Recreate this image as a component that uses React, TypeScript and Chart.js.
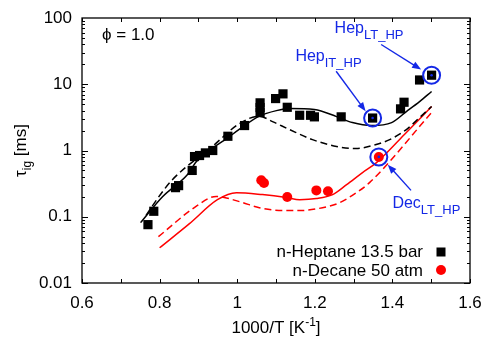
import { useEffect, useRef } from "react";
import { Chart, registerables } from "chart.js";

Chart.register(...registerables);

// ---- data ----
const xTicks = [0.6, 0.8, 1.0, 1.2, 1.4, 1.6];
const xTickLabels = ["0.6", "0.8", "1", "1.2", "1.4", "1.6"];
const yTicks = [0.01, 0.1, 1, 10, 100];
const yTickLabels = ["0.01", "0.1", "1", "10", "100"];

// n-Heptane 13.5 bar (experiment)
const heptaneX = [0.770, 0.785, 0.841, 0.849, 0.884, 0.890, 0.903, 0.918, 0.937, 0.976, 1.019, 1.059, 1.059, 1.059, 1.099, 1.118, 1.129, 1.161, 1.189, 1.199, 1.268, 1.349, 1.421, 1.430, 1.470, 1.501];
const heptaneTau = [0.076, 0.121, 0.275, 0.295, 0.50, 0.81, 0.84, 0.92, 1.0, 1.64, 2.38, 5.24, 4.45, 3.73, 6.08, 7.16, 4.49, 3.40, 3.40, 3.22, 3.22, 3.09, 4.25, 5.35, 11.6, 13.7];

// n-Decane 50 atm (experiment)
const decaneX = [1.062, 1.069, 1.129, 1.204, 1.234, 1.365];
const decaneTau = [0.355, 0.324, 0.199, 0.25, 0.242, 0.80];

// model curves
const hepSolidX = [0.751, 0.8075, 0.872, 0.895, 0.980, 1.006, 1.057, 1.101, 1.135, 1.199, 1.256, 1.297, 1.346, 1.398, 1.436, 1.470, 1.501];
const hepSolidTau = [0.0815, 0.201, 0.433, 0.68, 1.62, 2.1, 3.3, 4.0, 4.30, 4.15, 3.25, 2.64, 2.38, 2.64, 3.87, 5.48, 7.76];
const hepDashX = [0.765, 0.80, 0.833, 0.936, 1.006, 1.057, 1.091, 1.135, 1.194, 1.256, 1.307, 1.349, 1.393, 1.436, 1.470, 1.501];
const hepDashTau = [0.105, 0.208, 0.363, 1.15, 2.55, 3.3, 2.73, 2.07, 1.46, 1.15, 1.07, 1.19, 1.46, 2.07, 3.14, 4.61];
const decSolidX = [0.80, 0.877, 0.949, 0.998, 1.065, 1.127, 1.161, 1.204, 1.246, 1.282, 1.323, 1.359, 1.431, 1.501];
const decSolidTau = [0.034, 0.0787, 0.181, 0.231, 0.216, 0.195, 0.181, 0.188, 0.216, 0.305, 0.464, 0.656, 1.74, 4.6];
const decDashX = [0.797, 0.894, 0.946, 1.006, 1.057, 1.117, 1.161, 1.220, 1.264, 1.307, 1.341, 1.501];
const decDashTau = [0.050, 0.1435, 0.203, 0.169, 0.137, 0.124, 0.124, 0.137, 0.163, 0.231, 0.327, 3.74];

// highlighted points (blue rings)
const highlightX = [1.349, 1.501, 1.365];
const highlightTau = [3.09, 13.7, 0.80];

// annotation labels / arrows (data coordinates)
const annMain = ["Hep", "Hep", "Dec"];
const annSub = ["LT_HP", "IT_HP", "LT_HP"];
const annLabelX = [1.251, 1.150, 1.400];
const annLabelTau = [60.4, 22.8, 0.137];
const arrowFromX = [1.371, 1.255, 1.448];
const arrowFromTau = [39.8, 15.7, 0.25];
const arrowToX = [1.474, 1.331, 1.388];
const arrowToTau = [16.7, 3.91, 0.612];

const FONT = "'Liberation Sans', Arial, Helvetica, sans-serif";
const BLUE = "#1428e6";
const RED = "#ff0000";

const pts = (xs: number[], ys: number[]) => xs.map((x, i) => ({ x, y: ys[i] }));

const decor = {
  id: "decor",
  afterDatasetsDraw(chart: any) {
    const { ctx, chartArea: a, scales } = chart;
    const xs = scales.x;
    const ys = scales.y;
    const X = (v: number) => xs.getPixelForValue(v);
    const Y = (v: number) => ys.getPixelForValue(v);
    ctx.save();
    ctx.strokeStyle = "#000";
    ctx.lineWidth = 1;
    const line = (x1: number, y1: number, x2: number, y2: number) => {
      ctx.beginPath();
      ctx.moveTo(x1, y1);
      ctx.lineTo(x2, y2);
      ctx.stroke();
    };
    // x ticks every 0.1
    for (let i = 0; i <= 10; i++) {
      const px = Math.round(X(0.6 + i * 0.1)) + 0.5;
      line(px, a.bottom, px, a.bottom - 4);
      line(px, a.top, px, a.top + 4);
    }
    // y log ticks
    for (let d = -2; d <= 1; d++) {
      for (let m = 1; m <= 9; m++) {
        const py = Math.round(Y(m * Math.pow(10, d))) + 0.5;
        const len = m === 1 ? 6 : 3;
        line(a.left, py, a.left + len, py);
        line(a.right, py, a.right - len, py);
      }
    }
    // frame
    ctx.lineWidth = 1.3;
    ctx.strokeRect(a.left, a.top, a.right - a.left, a.bottom - a.top);

    // phi label
    ctx.fillStyle = "#000";
    ctx.font = `17px ${FONT}`;
    ctx.textAlign = "left";
    ctx.textBaseline = "alphabetic";
    ctx.fillText("\u03D5 = 1.0", a.left + 20, a.top + 22);

    // legend
    ctx.textAlign = "right";
    ctx.fillText("n-Heptane 13.5 bar", a.right - 47, a.bottom - 26);
    ctx.fillText("n-Decane 50 atm", a.right - 47, a.bottom - 7);
    ctx.fillStyle = "#000";
    ctx.fillRect(a.right - 29 - 4.5, a.bottom - 31 - 4.5, 9, 9);
    ctx.fillStyle = RED;
    ctx.beginPath();
    ctx.arc(a.right - 29, a.bottom - 13, 5, 0, Math.PI * 2);
    ctx.fill();

    // annotations
    ctx.textAlign = "left";
    for (let i = 0; i < annMain.length; i++) {
      const lx = X(annLabelX[i]);
      const ly = Y(annLabelTau[i]);
      ctx.fillStyle = BLUE;
      ctx.font = `16px ${FONT}`;
      ctx.fillText(annMain[i], lx, ly);
      const w = ctx.measureText(annMain[i]).width;
      ctx.font = `13px ${FONT}`;
      ctx.fillText(annSub[i], lx + w, ly + 6);
      // arrow
      const x1 = X(arrowFromX[i]), y1 = Y(arrowFromTau[i]);
      const x2 = X(arrowToX[i]), y2 = Y(arrowToTau[i]);
      const ang = Math.atan2(y2 - y1, x2 - x1);
      const hl = 9, hw = 3.5;
      ctx.strokeStyle = BLUE;
      ctx.lineWidth = 1.4;
      const bx = x2 - hl * Math.cos(ang), by = y2 - hl * Math.sin(ang);
      line(x1, y1, bx + 2 * Math.cos(ang), by + 2 * Math.sin(ang));
      ctx.beginPath();
      ctx.moveTo(x2, y2);
      ctx.lineTo(bx + hw * Math.sin(ang), by - hw * Math.cos(ang));
      ctx.lineTo(bx - hw * Math.sin(ang), by + hw * Math.cos(ang));
      ctx.closePath();
      ctx.fill();
    }

    // x axis title
    ctx.fillStyle = "#000";
    ctx.textAlign = "left";
    const main1 = "1000/T [K";
    ctx.font = `17px ${FONT}`;
    const w1 = ctx.measureText(main1).width;
    const w3 = ctx.measureText("]").width;
    ctx.font = `12px ${FONT}`;
    const w2 = ctx.measureText("-1").width;
    const cx = (a.left + a.right) / 2;
    const sx = cx - (w1 + w2 + w3) / 2;
    const by0 = a.bottom + 50;
    ctx.font = `17px ${FONT}`;
    ctx.fillText(main1, sx, by0);
    ctx.fillText("]", sx + w1 + w2, by0);
    ctx.font = `12px ${FONT}`;
    ctx.fillText("-1", sx + w1, by0 - 7);

    // y axis title (rotated)
    ctx.save();
    ctx.translate(a.left - 56, (a.top + a.bottom) / 2);
    ctx.rotate(-Math.PI / 2);
    ctx.font = `17px ${FONT}`;
    const t1 = "\u03C4";
    const t3 = " [ms]";
    const tw1 = ctx.measureText(t1).width;
    const tw3 = ctx.measureText(t3).width;
    ctx.font = `12px ${FONT}`;
    const tw2 = ctx.measureText("ig").width;
    const tsx = -(tw1 + tw2 + tw3) / 2;
    ctx.font = `17px ${FONT}`;
    ctx.fillText(t1, tsx, 0);
    ctx.fillText(t3, tsx + tw1 + tw2, 0);
    ctx.font = `12px ${FONT}`;
    ctx.fillText("ig", tsx + tw1, 5);
    ctx.restore();

    ctx.restore();
  },
};

export default function App() {
  const ref = useRef<HTMLCanvasElement>(null);
  useEffect(() => {
    document.body.style.margin = "0";
    const canvas = ref.current!;
    const lineDs = (xs: number[], ys: number[], color: string, dash: number[]) => ({
      type: "line" as const,
      data: pts(xs, ys),
      showLine: true,
      borderColor: color,
      borderWidth: 1.5,
      borderDash: dash,
      pointRadius: 0,
      fill: false,
      cubicInterpolationMode: "monotone" as const,
    });
    const chart = new Chart(canvas, {
      type: "scatter",
      data: {
        datasets: [
          {
            data: pts(highlightX, highlightTau),
            pointRadius: 1.3,
            pointBackgroundColor: BLUE,
            pointBorderWidth: 0,
          },
          {
            data: pts(highlightX, highlightTau),
            pointRadius: 8.5,
            pointBackgroundColor: "rgba(0,0,0,0)",
            pointBorderColor: BLUE,
            pointBorderWidth: 2,
          },
          {
            data: pts(heptaneX, heptaneTau),
            pointStyle: "rect",
            pointRadius: 6.5,
            pointBackgroundColor: "#000",
            pointBorderWidth: 0,
          },
          {
            data: pts(decaneX, decaneTau),
            pointStyle: "circle",
            pointRadius: 5,
            pointBackgroundColor: RED,
            pointBorderWidth: 0,
          },
          lineDs(hepSolidX, hepSolidTau, "#000", []),
          lineDs(hepDashX, hepDashTau, "#000", [7, 4]),
          lineDs(decSolidX, decSolidTau, RED, []),
          lineDs(decDashX, decDashTau, RED, [7, 4]),
        ] as any,
      },
      options: {
        responsive: false,
        animation: false,
        events: [],
        layout: { padding: { top: 18, right: 16, left: 0, bottom: 0 } },
        plugins: { legend: { display: false }, tooltip: { enabled: false } },
        scales: {
          x: {
            type: "linear",
            min: 0.6,
            max: 1.6,
            grid: { display: false, drawTicks: false },
            border: { display: false },
            ticks: {
              autoSkip: false,
              maxRotation: 0,
              padding: 10,
              color: "#000",
              font: { family: FONT, size: 17 },
              callback: (_v: any, i: number) => xTickLabels[i],
            },
            afterBuildTicks: (s: any) => {
              s.ticks = xTicks.map((v) => ({ value: v }));
            },
            afterFit: (s: any) => {
              s.height = 56;
              s.paddingLeft = 0;
              s.paddingRight = 0;
            },
          },
          y: {
            type: "logarithmic",
            min: 0.01,
            max: 100,
            grid: { display: false, drawTicks: false },
            border: { display: false },
            ticks: {
              autoSkip: false,
              padding: 10,
              color: "#000",
              font: { family: FONT, size: 17 },
              callback: (_v: any, i: number) => yTickLabels[i],
            },
            afterBuildTicks: (s: any) => {
              s.ticks = yTicks.map((v) => ({ value: v }));
            },
            afterFit: (s: any) => {
              s.width = 82;
              s.paddingTop = 0;
              s.paddingBottom = 0;
            },
          },
        },
      } as any,
      plugins: [decor],
    });
    return () => chart.destroy();
  }, []);
  return <canvas ref={ref} width={486} height={339} style={{ display: "block" }} />;
}
